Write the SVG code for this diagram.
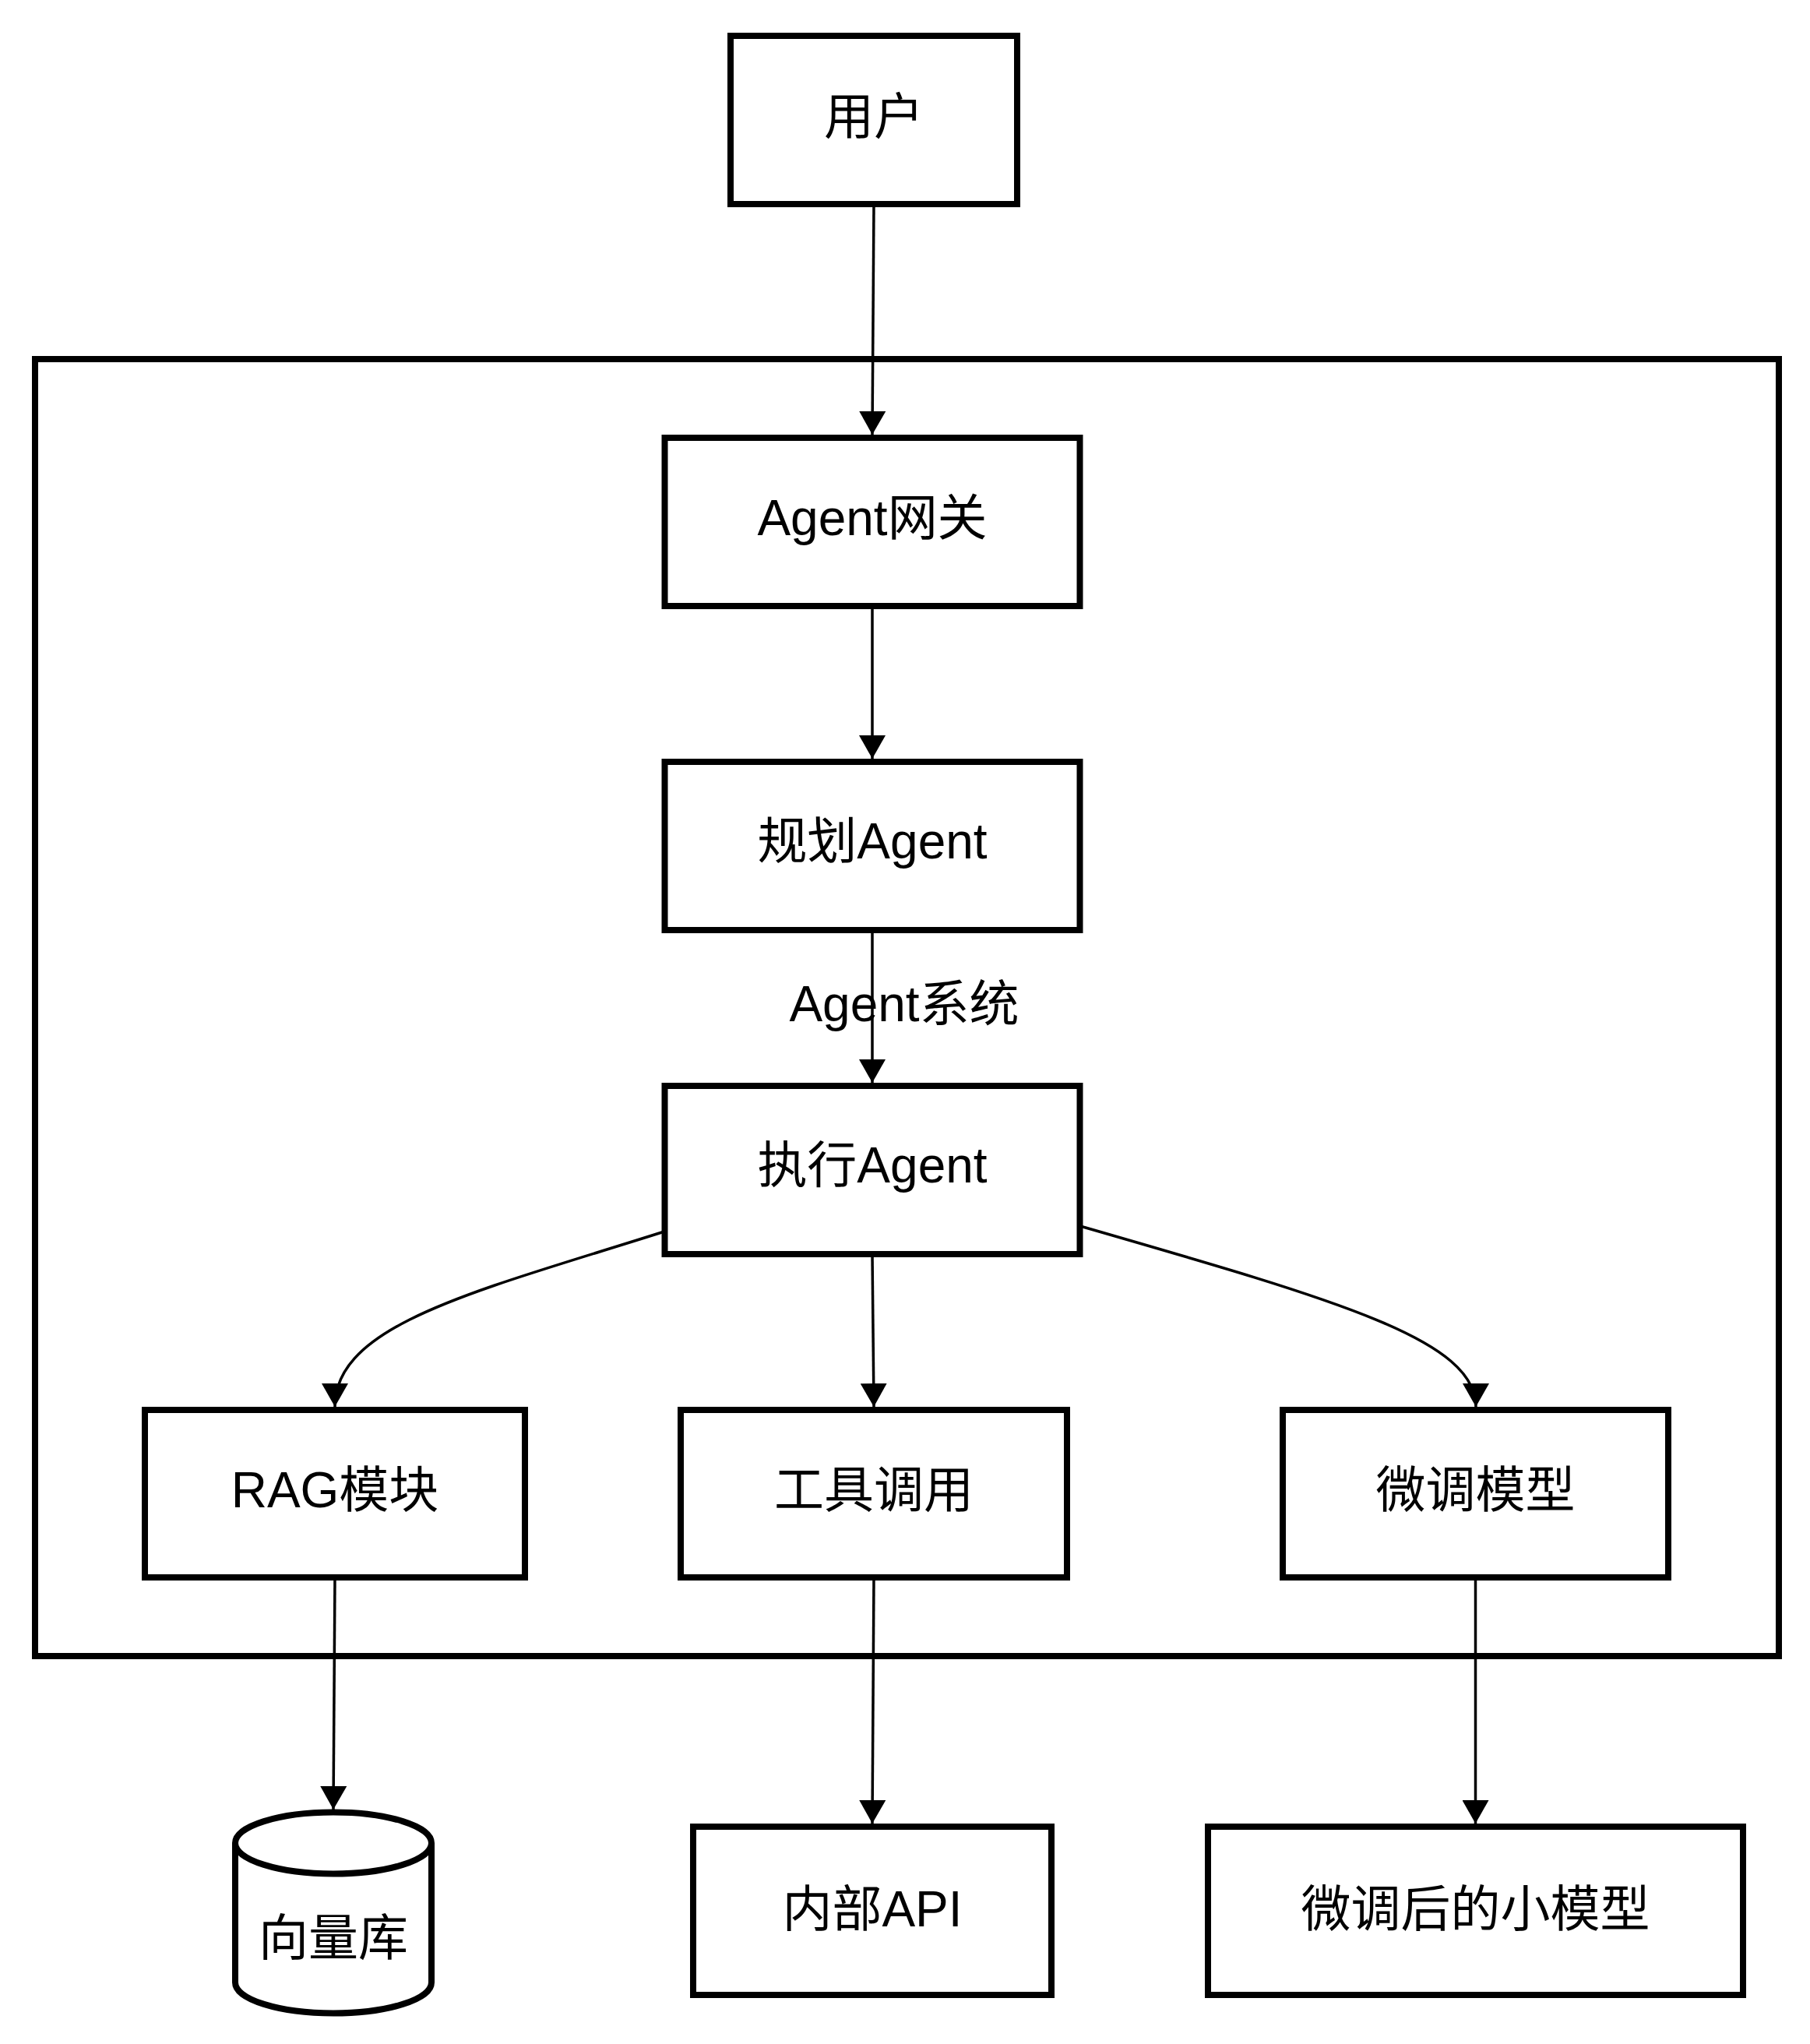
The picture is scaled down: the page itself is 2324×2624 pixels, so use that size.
<svg xmlns="http://www.w3.org/2000/svg" width="2324" height="2624" viewBox="0 0 2324 2624">
<style>
.box{fill:#fff;stroke:#000;stroke-width:8}
.frame{fill:none;stroke:#000;stroke-width:8}
.edge{fill:none;stroke:#000;stroke-width:3.5}
.t{font-family:"Liberation Sans","Noto Sans CJK SC",sans-serif;font-size:64px;fill:#000;text-anchor:middle}
</style>
<defs>
<marker id="arr" viewBox="0 0 10 10" refX="10" refY="5" markerWidth="30" markerHeight="34" markerUnits="userSpaceOnUse" orient="auto" preserveAspectRatio="none">
<path d="M0,0 L10,5 L0,10 z" fill="#000"/>
</marker>
</defs>
<rect fill="#fff" x="0" y="0" width="2324" height="2624"/>
<g id="agent-system">
<rect class="frame" x="45" y="461" width="2239" height="1665"/>
<text class="t" x="1161" y="1311">Agent系统</text>
</g>
<g id="connectors">
<path class="edge" d="M1122 262 L1120 558" marker-end="url(#arr)"/>
<path class="edge" d="M1120 778 L1120 974" marker-end="url(#arr)"/>
<path class="edge" d="M1120 1194 L1120 1390" marker-end="url(#arr)"/>
<path class="edge" d="M853 1581 C610 1658 430 1700 430 1806" marker-end="url(#arr)"/>
<path class="edge" d="M1120 1610 L1122 1806" marker-end="url(#arr)"/>
<path class="edge" d="M1387 1574 C1720 1670 1895 1720 1895 1806" marker-end="url(#arr)"/>
<path class="edge" d="M430 2025 L428 2323" marker-end="url(#arr)"/>
<path class="edge" d="M1122 2025 L1120 2341" marker-end="url(#arr)"/>
<path class="edge" d="M1894.5 2025 L1894.5 2341" marker-end="url(#arr)"/>
</g>
<g id="user">
<rect class="box" x="938" y="46" width="368" height="216"/>
<text class="t" x="1122" y="172">用户</text>
</g>
<g id="gateway">
<rect class="box" x="853.5" y="562" width="533" height="216"/>
<text class="t" x="1120" y="687">Agent网关</text>
</g>
<g id="planner">
<rect class="box" x="853.5" y="978" width="533" height="216"/>
<text class="t" x="1120" y="1102">规划Agent</text>
</g>
<g id="executor">
<rect class="box" x="853.5" y="1394" width="533" height="216"/>
<text class="t" x="1120" y="1518">执行Agent</text>
</g>
<g id="rag">
<rect class="box" x="186" y="1810" width="488" height="215"/>
<text class="t" x="430" y="1935">RAG模块</text>
</g>
<g id="tools">
<rect class="box" x="874" y="1810" width="496" height="215"/>
<text class="t" x="1122" y="1935">工具调用</text>
</g>
<g id="finetune">
<rect class="box" x="1647" y="1810" width="495" height="215"/>
<text class="t" x="1894.5" y="1935">微调模型</text>
</g>
<g id="vectordb">
<path class="box" d="M302 2366 L302 2545 A126 39.5 0 0 0 554 2545 L554 2366 A126 39.5 0 0 0 302 2366 Z"/>
<path class="frame" d="M302 2366 A126 39.5 0 0 0 554 2366"/>
<text class="t" x="428" y="2510">向量库</text>
</g>
<g id="internal-api">
<rect class="box" x="890" y="2345" width="460" height="216"/>
<text class="t" x="1120" y="2473">内部API</text>
</g>
<g id="small-model">
<rect class="box" x="1551" y="2345" width="687" height="216"/>
<text class="t" x="1894.5" y="2473">微调后的小模型</text>
</g>
</svg>
